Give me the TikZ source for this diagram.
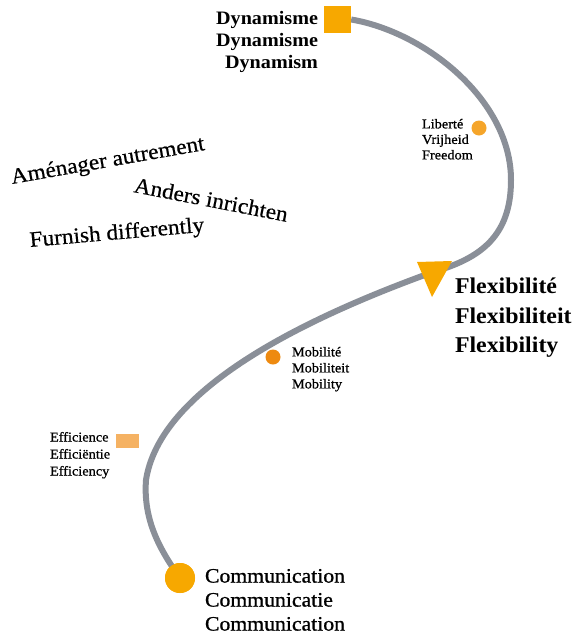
\documentclass[tikz,border=0pt]{standalone}
\usepackage{fontspec}
\newfontfamily\gar[FakeStretch=1.06]{Liberation Serif}
\newfontfamily\garm[FakeStretch=1.06,FakeBold=0.9]{Liberation Serif}
\newfontfamily\garl[FakeStretch=1.06,FakeBold=0.5]{Liberation Serif}
\definecolor{ora}{HTML}{F7A800}
\definecolor{oralt}{HTML}{F5A52A}
\definecolor{oradk}{HTML}{EE8A10}
\definecolor{orapale}{HTML}{F5B263}
\definecolor{curve}{HTML}{8A8F98}
\begin{document}
\begin{tikzpicture}[x=1pt,y=-1pt,
  lbl/.style={inner sep=0pt,outer sep=0pt,text=black,font=\gar},
  slant/.style={inner sep=0pt,anchor=base west,font=\garl\fontsize{22}{26}\selectfont}]
\useasboundingbox[fill=white] (0,0) rectangle (575,635);
% anchors of the curve
\node[fill=ora,minimum width=27pt,minimum height=27pt,inner sep=0pt] (sq) at (337.5,19.5) {};
\node[inner sep=0pt,minimum size=0pt] (tri) at (433,272) {};
\coordinate (c1) at (511,180);
\coordinate (c2) at (146,480);
\node[circle,fill=ora,minimum size=30pt,inner sep=0pt] (comm) at (180,578) {};
% curve
\draw[curve,line width=6pt] (sq.east) .. controls (425,32) and (511,100) .. (c1)
  .. controls (511,235) and (482,258) .. (tri.center)
  .. controls (300,320) and (160,390) .. (c2)
  .. controls (143,520) and (160,550) .. (comm.center);
% markers over the curve
\fill[ora] (417,262) -- (452,261) -- (432,297) -- cycle;
\node[circle,fill=ora,minimum size=30pt,inner sep=0pt] (commtop) at (180,578) {};
\node[fill=ora,minimum width=27pt,minimum height=27pt,inner sep=0pt] (sqtop) at (337.5,19.5) {};
\node[circle,fill=oralt,minimum size=15pt,inner sep=0pt] (lib) at (479,128) {};
\node[circle,fill=oradk,minimum size=15pt,inner sep=0pt] (mob) at (273,357) {};
\node[fill=orapale,minimum width=23pt,minimum height=14pt,inner sep=0pt] (eff) at (127.5,441) {};
% labels
\node[lbl,anchor=north east,align=right,font=\gar\bfseries\fontsize{19}{22}\selectfont] (tdyn) at (318,11) {Dynamisme\\Dynamisme\\Dynamism};
\node[lbl,anchor=north west,align=left,font=\garm\fontsize{13.5}{15.5}\selectfont] (tlib) at (422,119) {Libert\'e\\Vrijheid\\Freedom};
\node[lbl,anchor=north west,align=left,font=\gar\bfseries\fontsize{22.5}{29.5}\selectfont] (tflex) at (455,278) {Flexibilit\'e\\Flexibiliteit\\Flexibility};
\node[lbl,anchor=north west,align=left,font=\garm\fontsize{13.5}{16}\selectfont] (tmob) at (292,347) {Mobilit\'e\\Mobiliteit\\Mobility};
\node[lbl,anchor=north west,align=left,font=\garm\fontsize{13.5}{17}\selectfont] (teff) at (50,432) {Efficience\\Effici\"entie\\Efficiency};
\node[lbl,anchor=north west,align=left,font=\garm\fontsize{20.5}{24}\selectfont] (tcomm) at (205,569) {Communication\\Communicatie\\Communication};
% slanted captions
\node[slant,rotate=10] (t1) at (12,184) {Am\'enager autrement};
\node[slant,rotate=-11] (t2) at (133,192) {Anders inrichten};
\node[slant,rotate=5] (t3) at (30,247) {Furnish differently};
\end{tikzpicture}
\end{document}
